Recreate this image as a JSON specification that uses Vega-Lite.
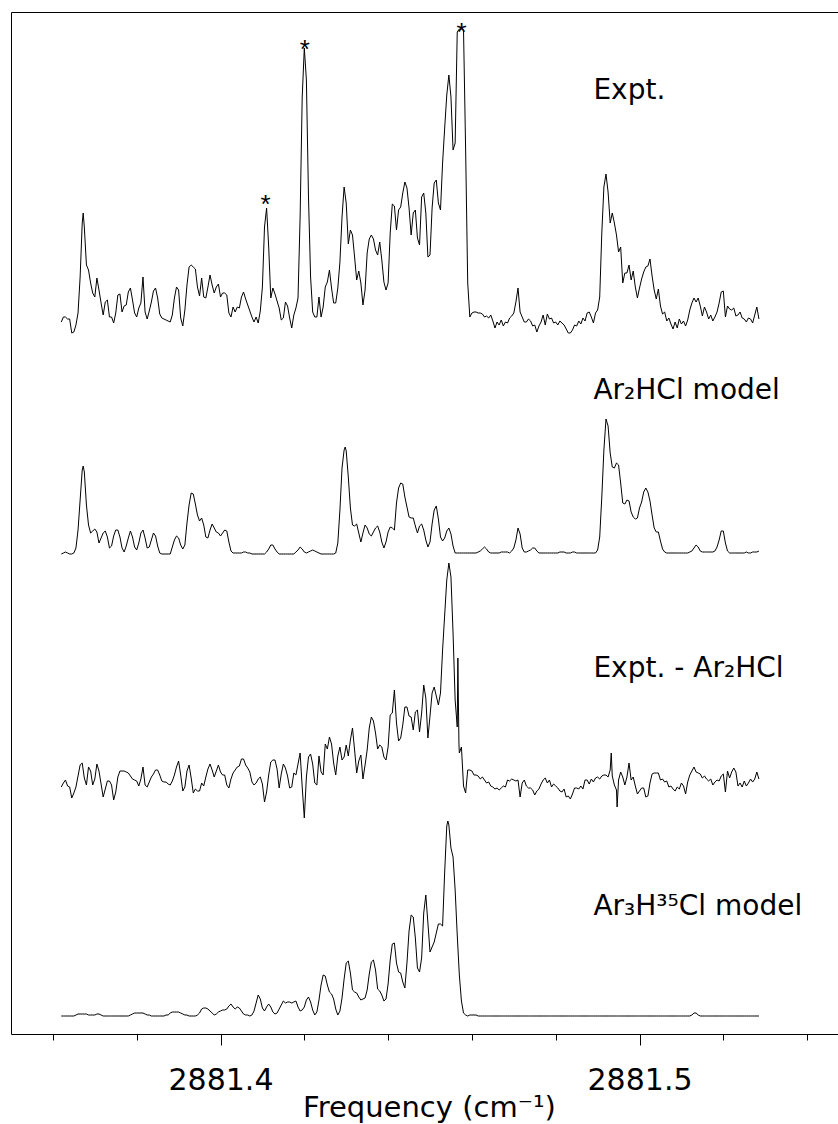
{
"$schema": "https://vega.github.io/schema/vega-lite/v6.json",
"width": 827, "height": 1022,
"autosize": {"type": "none"},
"padding": {"left": 11, "top": 12, "right": 0, "bottom": 90},
"background": "white",
"config": {"view": {"stroke": null}, "axis": {"grid": false}},
"resolve": {"axis": {"x": "independent"}},
"layer": [
{
"data": {"values": [
{"f":2881.362,"a":712,"b":480,"c":247,"d":18},
{"f":2881.3625,"a":717,"b":481,"c":251,"d":18},
{"f":2881.363,"a":717,"b":482,"c":254,"d":18},
{"f":2881.3635,"a":715,"b":481,"c":248,"d":18},
{"f":2881.364,"a":715,"b":480,"c":247,"d":18},
{"f":2881.3645,"a":701,"b":480,"c":236,"d":18},
{"f":2881.365,"a":702,"b":481,"c":241,"d":18},
{"f":2881.3655,"a":709,"b":486,"c":247,"d":19},
{"f":2881.366,"a":721,"b":504,"c":258,"d":20},
{"f":2881.3665,"a":757,"b":534,"c":269,"d":20},
{"f":2881.367,"a":811,"b":564,"c":271,"d":20},
{"f":2881.36723,"a":821,"b":568},
{"f":2881.3675,"a":807,"b":562,"c":256,"d":20},
{"f":2881.368,"a":769,"b":529,"c":249,"d":20},
{"f":2881.3685,"a":764,"b":509,"c":267,"d":19},
{"f":2881.369,"a":751,"b":501,"c":263,"d":19},
{"f":2881.3695,"a":741,"b":503,"c":249,"d":19},
{"f":2881.37,"a":737,"b":505,"c":255,"d":19},
{"f":2881.3705,"a":756,"b":502,"c":270,"d":20},
{"f":2881.371,"a":744,"b":491,"c":263,"d":20},
{"f":2881.3715,"a":731,"b":496,"c":250,"d":19},
{"f":2881.372,"a":719,"b":501,"c":237,"d":18},
{"f":2881.3725,"a":732,"b":503,"c":245,"d":18},
{"f":2881.373,"a":734,"b":497,"c":253,"d":18},
{"f":2881.3735,"a":717,"b":486,"c":253,"d":18},
{"f":2881.374,"a":717,"b":488,"c":249,"d":18},
{"f":2881.3745,"a":711,"b":498,"c":234,"d":18},
{"f":2881.375,"a":721,"b":504,"c":242,"d":18},
{"f":2881.3755,"a":739,"b":504,"c":257,"d":18},
{"f":2881.376,"a":740,"b":497,"c":263,"d":18},
{"f":2881.3765,"a":722,"b":486,"c":263,"d":18},
{"f":2881.377,"a":728,"b":482,"c":263,"d":18},
{"f":2881.3775,"a":729,"b":488,"c":262,"d":18},
{"f":2881.378,"a":742,"b":496,"c":261,"d":18},
{"f":2881.3785,"a":746,"b":503,"c":258,"d":19},
{"f":2881.379,"a":734,"b":497,"c":255,"d":20},
{"f":2881.3795,"a":721,"b":487,"c":254,"d":21},
{"f":2881.38,"a":717,"b":484,"c":253,"d":21},
{"f":2881.3805,"a":726,"b":491,"c":248,"d":21},
{"f":2881.381,"a":731,"b":501,"c":255,"d":21},
{"f":2881.3815,"a":757,"b":504,"c":267,"d":21},
{"f":2881.382,"a":722,"b":496,"c":249,"d":20},
{"f":2881.3825,"a":715,"b":486,"c":247,"d":19},
{"f":2881.383,"a":723,"b":487,"c":252,"d":19},
{"f":2881.3835,"a":732,"b":494,"c":257,"d":18},
{"f":2881.384,"a":743,"b":501,"c":260,"d":18},
{"f":2881.3845,"a":746,"b":498,"c":264,"d":18},
{"f":2881.385,"a":736,"b":488,"c":264,"d":18},
{"f":2881.3855,"a":720,"b":481,"c":259,"d":18},
{"f":2881.386,"a":716,"b":480,"c":253,"d":18},
{"f":2881.3865,"a":715,"b":480,"c":252,"d":18},
{"f":2881.387,"a":714,"b":480,"c":252,"d":19},
{"f":2881.3875,"a":713,"b":480,"c":250,"d":19},
{"f":2881.388,"a":712,"b":480,"c":249,"d":21},
{"f":2881.3885,"a":719,"b":487,"c":253,"d":22},
{"f":2881.389,"a":736,"b":494,"c":259,"d":22},
{"f":2881.3895,"a":747,"b":498,"c":267,"d":22},
{"f":2881.39,"a":744,"b":496,"c":273,"d":22},
{"f":2881.3905,"a":716,"b":489,"c":259,"d":21},
{"f":2881.391,"a":708,"b":485,"c":243,"d":20},
{"f":2881.3915,"a":724,"b":489,"c":247,"d":19},
{"f":2881.392,"a":749,"b":511,"c":263,"d":19},
{"f":2881.3925,"a":767,"b":529,"c":269,"d":18},
{"f":2881.393,"a":769,"b":541,"c":256,"d":18},
{"f":2881.3935,"a":767,"b":540,"c":241,"d":18},
{"f":2881.394,"a":765,"b":530,"c":245,"d":18},
{"f":2881.3945,"a":747,"b":519,"c":243,"d":19},
{"f":2881.395,"a":738,"b":513,"c":243,"d":21},
{"f":2881.3955,"a":756,"b":516,"c":251,"d":25},
{"f":2881.396,"a":737,"b":509,"c":248,"d":26},
{"f":2881.3965,"a":736,"b":497,"c":257,"d":26},
{"f":2881.397,"a":747,"b":496,"c":265,"d":25},
{"f":2881.3975,"a":759,"b":504,"c":270,"d":23},
{"f":2881.398,"a":749,"b":510,"c":264,"d":21},
{"f":2881.3985,"a":741,"b":506,"c":257,"d":19},
{"f":2881.399,"a":747,"b":502,"c":263,"d":20},
{"f":2881.3995,"a":750,"b":501,"c":269,"d":22},
{"f":2881.4,"a":737,"b":498,"c":262,"d":23},
{"f":2881.4005,"a":741,"b":501,"c":259,"d":24},
{"f":2881.401,"a":741,"b":504,"c":259,"d":24},
{"f":2881.4015,"a":739,"b":503,"c":249,"d":25},
{"f":2881.402,"a":721,"b":492,"c":246,"d":28},
{"f":2881.4025,"a":717,"b":483,"c":255,"d":30},
{"f":2881.403,"a":727,"b":481,"c":261,"d":27},
{"f":2881.4035,"a":722,"b":481,"c":264,"d":25},
{"f":2881.404,"a":727,"b":481,"c":267,"d":27},
{"f":2881.4045,"a":726,"b":481,"c":268,"d":26},
{"f":2881.405,"a":737,"b":481,"c":275,"d":23},
{"f":2881.4055,"a":742,"b":482,"c":275,"d":20},
{"f":2881.406,"a":735,"b":482,"c":269,"d":19},
{"f":2881.4065,"a":729,"b":481,"c":266,"d":19},
{"f":2881.407,"a":723,"b":481,"c":262,"d":18},
{"f":2881.4075,"a":717,"b":480,"c":252,"d":19},
{"f":2881.408,"a":712,"b":480,"c":249,"d":23},
{"f":2881.4085,"a":717,"b":480,"c":251,"d":31},
{"f":2881.409,"a":711,"b":480,"c":255,"d":39},
{"f":2881.4095,"a":723,"b":480,"c":257,"d":35},
{"f":2881.41,"a":747,"b":480,"c":250,"d":26},
{"f":2881.4105,"a":807,"b":480,"c":232,"d":23},
{"f":2881.411,"a":826,"b":482,"c":242,"d":27},
{"f":2881.4115,"a":787,"b":485,"c":259,"d":30},
{"f":2881.412,"a":736,"b":489,"c":272,"d":27},
{"f":2881.4125,"a":746,"b":489,"c":274,"d":22},
{"f":2881.413,"a":740,"b":485,"c":274,"d":20},
{"f":2881.4135,"a":733,"b":482,"c":265,"d":21},
{"f":2881.414,"a":726,"b":480,"c":246,"d":25},
{"f":2881.4145,"a":714,"b":480,"c":260,"d":29},
{"f":2881.415,"a":716,"b":480,"c":270,"d":33},
{"f":2881.4155,"a":732,"b":480,"c":266,"d":31},
{"f":2881.416,"a":728,"b":480,"c":258,"d":32},
{"f":2881.4165,"a":716,"b":480,"c":246,"d":32},
{"f":2881.417,"a":706,"b":480,"c":247,"d":31},
{"f":2881.4175,"a":719,"b":480,"c":261,"d":32},
{"f":2881.418,"a":726,"b":482,"c":259,"d":33},
{"f":2881.4185,"a":736,"b":484,"c":270,"d":27},
{"f":2881.419,"a":817,"b":487,"c":281,"d":23},
{"f":2881.4195,"a":937,"b":485,"c":247,"d":24},
{"f":2881.42,"a":986,"b":482,"c":216,"d":27},
{"f":2881.4205,"a":954,"b":481,"c":257,"d":34},
{"f":2881.421,"a":837,"b":482,"c":277,"d":37},
{"f":2881.4215,"a":757,"b":483,"c":280,"d":32},
{"f":2881.422,"a":722,"b":484,"c":270,"d":24},
{"f":2881.4225,"a":717,"b":483,"c":251,"d":19},
{"f":2881.423,"a":717,"b":482,"c":249,"d":22},
{"f":2881.4235,"a":737,"b":481,"c":278,"d":34},
{"f":2881.424,"a":717,"b":480,"c":262,"d":49},
{"f":2881.4245,"a":727,"b":480,"c":259,"d":59},
{"f":2881.425,"a":747,"b":480,"c":290,"d":58},
{"f":2881.4255,"a":752,"b":480,"c":285,"d":49},
{"f":2881.426,"a":764,"b":480,"c":297,"d":42},
{"f":2881.4265,"a":746,"b":480,"c":290,"d":40},
{"f":2881.427,"a":731,"b":480,"c":271,"d":35},
{"f":2881.4275,"a":731,"b":481,"c":259,"d":25},
{"f":2881.428,"a":746,"b":491,"c":278,"d":19},
{"f":2881.4285,"a":772,"b":524,"c":287,"d":23},
{"f":2881.429,"a":817,"b":566,"c":274,"d":36},
{"f":2881.4295,"a":847,"b":584,"c":277,"d":55},
{"f":2881.42976,"b":587},
{"f":2881.43,"a":831,"b":583,"c":289,"d":71},
{"f":2881.4305,"a":790,"b":557,"c":278,"d":73},
{"f":2881.431,"a":804,"b":526,"c":294,"d":61},
{"f":2881.4315,"a":799,"b":509,"c":306,"d":44},
{"f":2881.432,"a":777,"b":508,"c":284,"d":42},
{"f":2881.4325,"a":754,"b":510,"c":261,"d":41},
{"f":2881.433,"a":763,"b":501,"c":273,"d":37},
{"f":2881.4335,"a":751,"b":492,"c":279,"d":34},
{"f":2881.434,"a":729,"b":501,"c":255,"d":35},
{"f":2881.4345,"a":744,"b":509,"c":269,"d":36},
{"f":2881.435,"a":781,"b":506,"c":284,"d":44},
{"f":2881.4355,"a":795,"b":500,"c":306,"d":60},
{"f":2881.436,"a":799,"b":498,"c":317,"d":72},
{"f":2881.4365,"a":795,"b":502,"c":313,"d":74},
{"f":2881.437,"a":784,"b":506,"c":301,"d":64},
{"f":2881.4375,"a":779,"b":508,"c":285,"d":45},
{"f":2881.438,"a":792,"b":502,"c":289,"d":43},
{"f":2881.4385,"a":774,"b":492,"c":287,"d":39},
{"f":2881.439,"a":752,"b":486,"c":277,"d":33},
{"f":2881.4395,"a":744,"b":492,"c":274,"d":35},
{"f":2881.44,"a":751,"b":502,"c":287,"d":50},
{"f":2881.4405,"a":801,"b":507,"c":319,"d":74},
{"f":2881.441,"a":830,"b":506,"c":321,"d":90},
{"f":2881.4415,"a":828,"b":504,"c":344,"d":91},
{"f":2881.442,"a":804,"b":531,"c":311,"d":71},
{"f":2881.4425,"a":824,"b":546,"c":293,"d":62},
{"f":2881.443,"a":827,"b":551,"c":296,"d":61},
{"f":2881.4435,"a":841,"b":550,"c":309,"d":52},
{"f":2881.444,"a":852,"b":537,"c":327,"d":46},
{"f":2881.4445,"a":846,"b":527,"c":327,"d":71},
{"f":2881.445,"a":826,"b":517,"c":318,"d":103},
{"f":2881.4455,"a":799,"b":516,"c":317,"d":119},
{"f":2881.446,"a":821,"b":516,"c":304,"d":117},
{"f":2881.4465,"a":824,"b":508,"c":322,"d":96},
{"f":2881.447,"a":796,"b":501,"c":324,"d":66},
{"f":2881.4475,"a":789,"b":508,"c":302,"d":62},
{"f":2881.448,"a":837,"b":510,"c":321,"d":76},
{"f":2881.4485,"a":841,"b":504,"c":349,"d":121},
{"f":2881.449,"a":821,"b":494,"c":336,"d":139},
{"f":2881.4495,"a":777,"b":487,"c":296,"d":111},
{"f":2881.45,"a":779,"b":492,"c":318,"d":82},
{"f":2881.4505,"a":826,"b":510,"c":341,"d":87},
{"f":2881.451,"a":851,"b":524,"c":347,"d":92},
{"f":2881.4515,"a":854,"b":528,"c":338,"d":101},
{"f":2881.452,"a":831,"b":515,"c":329,"d":110},
{"f":2881.4525,"a":824,"b":497,"c":341,"d":110},
{"f":2881.453,"a":871,"b":493,"c":384,"d":108},
{"f":2881.4535,"a":906,"b":496,"c":419,"d":162},
{"f":2881.454,"a":939,"b":503,"c":454,"d":208},
{"f":2881.45426,"d":213},
{"f":2881.4545,"a":959,"b":506,"c":471,"d":209},
{"f":2881.455,"a":937,"b":500,"c":457,"d":186},
{"f":2881.4555,"a":884,"b":488,"c":401,"d":177},
{"f":2881.456,"a":891,"b":481,"c":334,"d":144},
{"f":2881.4565,"a":1002,"b":481,"c":307,"d":99},
{"f":2881.45665,"c":376},
{"f":2881.4569,"c":291},
{"f":2881.457,"a":1005,"b":481,"c":281,"d":59},
{"f":2881.4575,"a":1005,"b":481,"c":287,"d":33},
{"f":2881.458,"a":1004,"b":481,"c":248,"d":21},
{"f":2881.4585,"a":884,"b":481,"c":241,"d":19},
{"f":2881.459,"a":751,"b":481,"c":264,"d":18},
{"f":2881.4595,"a":717,"b":481,"c":264,"d":19},
{"f":2881.46,"a":721,"b":481,"c":263,"d":19},
{"f":2881.4605,"a":722,"b":481,"c":259,"d":19},
{"f":2881.461,"a":722,"b":481,"c":259,"d":19},
{"f":2881.4615,"a":721,"b":482,"c":258,"d":18},
{"f":2881.462,"a":721,"b":483,"c":255,"d":18},
{"f":2881.4625,"a":720,"b":485,"c":257,"d":18},
{"f":2881.463,"a":717,"b":487,"c":254,"d":18},
{"f":2881.4635,"a":718,"b":485,"c":251,"d":18},
{"f":2881.464,"a":716,"b":482,"c":252,"d":18},
{"f":2881.4645,"a":719,"b":481,"c":248,"d":18},
{"f":2881.465,"a":713,"b":481,"c":247,"d":18},
{"f":2881.4655,"a":706,"b":481,"c":245,"d":18},
{"f":2881.466,"a":712,"b":481,"c":246,"d":18},
{"f":2881.4665,"a":709,"b":481,"c":244,"d":18},
{"f":2881.467,"a":714,"b":482,"c":246,"d":18},
{"f":2881.4675,"a":708,"b":482,"c":248,"d":18},
{"f":2881.468,"a":712,"b":482,"c":247,"d":18},
{"f":2881.4685,"a":711,"b":482,"c":254,"d":18},
{"f":2881.469,"a":716,"b":481,"c":253,"d":18},
{"f":2881.4695,"a":718,"b":483,"c":255,"d":18},
{"f":2881.47,"a":721,"b":486,"c":254,"d":18},
{"f":2881.4705,"a":732,"b":494,"c":253,"d":18},
{"f":2881.471,"a":746,"b":506,"c":254,"d":18},
{"f":2881.4715,"a":722,"b":500,"c":237,"d":18},
{"f":2881.472,"a":717,"b":486,"c":251,"d":18},
{"f":2881.4725,"a":712,"b":482,"c":254,"d":18},
{"f":2881.473,"a":712,"b":482,"c":248,"d":18},
{"f":2881.4735,"a":715,"b":483,"c":246,"d":18},
{"f":2881.474,"a":713,"b":484,"c":246,"d":18},
{"f":2881.4745,"a":708,"b":486,"c":244,"d":18},
{"f":2881.475,"a":709,"b":486,"c":239,"d":18},
{"f":2881.4755,"a":702,"b":483,"c":243,"d":18},
{"f":2881.476,"a":708,"b":481,"c":245,"d":18},
{"f":2881.4765,"a":712,"b":481,"c":250,"d":18},
{"f":2881.477,"a":719,"b":481,"c":254,"d":18},
{"f":2881.4775,"a":709,"b":481,"c":256,"d":18},
{"f":2881.478,"a":720,"b":481,"c":251,"d":18},
{"f":2881.4785,"a":715,"b":481,"c":254,"d":18},
{"f":2881.479,"a":716,"b":481,"c":247,"d":18},
{"f":2881.4795,"a":711,"b":481,"c":250,"d":18},
{"f":2881.48,"a":712,"b":481,"c":248,"d":18},
{"f":2881.4805,"a":709,"b":481,"c":246,"d":18},
{"f":2881.481,"a":713,"b":482,"c":243,"d":18},
{"f":2881.4815,"a":711,"b":482,"c":242,"d":18},
{"f":2881.482,"a":709,"b":482,"c":245,"d":18},
{"f":2881.4825,"a":705,"b":481,"c":237,"d":18},
{"f":2881.483,"a":701,"b":481,"c":238,"d":18},
{"f":2881.4835,"a":701,"b":481,"c":235,"d":18},
{"f":2881.484,"a":704,"b":482,"c":240,"d":18},
{"f":2881.4845,"a":709,"b":482,"c":246,"d":18},
{"f":2881.485,"a":708,"b":481,"c":246,"d":18},
{"f":2881.4855,"a":713,"b":481,"c":245,"d":18},
{"f":2881.486,"a":710,"b":481,"c":248,"d":18},
{"f":2881.4865,"a":716,"b":481,"c":245,"d":18},
{"f":2881.487,"a":713,"b":481,"c":254,"d":18},
{"f":2881.4875,"a":721,"b":481,"c":254,"d":18},
{"f":2881.488,"a":722,"b":481,"c":250,"d":18},
{"f":2881.4885,"a":717,"b":481,"c":255,"d":18},
{"f":2881.489,"a":711,"b":481,"c":252,"d":18},
{"f":2881.4895,"a":721,"b":481,"c":256,"d":18},
{"f":2881.49,"a":724,"b":484,"c":257,"d":18},
{"f":2881.4905,"a":737,"b":497,"c":255,"d":18},
{"f":2881.491,"a":801,"b":537,"c":258,"d":18},
{"f":2881.4915,"a":847,"b":584,"c":259,"d":18},
{"f":2881.492,"a":860,"b":615,"c":259,"d":18},
{"f":2881.4925,"a":842,"b":608,"c":257,"d":18},
{"f":2881.493,"a":811,"b":581,"c":264,"d":18},
{"f":2881.49325,"c":281},
{"f":2881.4935,"a":821,"b":567,"c":258,"d":18},
{"f":2881.494,"a":811,"b":566,"c":249,"d":18},
{"f":2881.4945,"a":799,"b":571,"c":244,"d":18},
{"f":2881.49465,"c":227},
{"f":2881.495,"a":782,"b":569,"c":254,"d":18},
{"f":2881.4955,"a":787,"b":551,"c":262,"d":18},
{"f":2881.496,"a":751,"b":531,"c":257,"d":18},
{"f":2881.4965,"a":761,"b":530,"c":249,"d":18},
{"f":2881.497,"a":761,"b":534,"c":257,"d":18},
{"f":2881.4975,"a":769,"b":533,"c":271,"d":18},
{"f":2881.498,"a":754,"b":522,"c":254,"d":18},
{"f":2881.4985,"a":763,"b":517,"c":257,"d":18},
{"f":2881.499,"a":747,"b":515,"c":248,"d":18},
{"f":2881.4995,"a":736,"b":516,"c":240,"d":18},
{"f":2881.5,"a":746,"b":526,"c":243,"d":18},
{"f":2881.5005,"a":755,"b":532,"c":246,"d":18},
{"f":2881.501,"a":762,"b":542,"c":246,"d":18},
{"f":2881.5015,"a":767,"b":546,"c":237,"d":18},
{"f":2881.502,"a":768,"b":542,"c":238,"d":18},
{"f":2881.5025,"a":775,"b":533,"c":251,"d":18},
{"f":2881.503,"a":758,"b":519,"c":260,"d":18},
{"f":2881.5035,"a":744,"b":506,"c":261,"d":18},
{"f":2881.504,"a":735,"b":502,"c":261,"d":18},
{"f":2881.5045,"a":745,"b":502,"c":261,"d":18},
{"f":2881.505,"a":728,"b":493,"c":254,"d":18},
{"f":2881.5055,"a":720,"b":485,"c":255,"d":18},
{"f":2881.506,"a":722,"b":482,"c":252,"d":18},
{"f":2881.5065,"a":713,"b":481,"c":253,"d":18},
{"f":2881.507,"a":716,"b":481,"c":247,"d":18},
{"f":2881.5075,"a":710,"b":481,"c":248,"d":18},
{"f":2881.508,"a":705,"b":481,"c":245,"d":18},
{"f":2881.5085,"a":712,"b":481,"c":243,"d":18},
{"f":2881.509,"a":706,"b":481,"c":247,"d":18},
{"f":2881.5095,"a":715,"b":481,"c":245,"d":18},
{"f":2881.51,"a":710,"b":481,"c":251,"d":18},
{"f":2881.5105,"a":713,"b":481,"c":248,"d":18},
{"f":2881.511,"a":708,"b":481,"c":240,"d":18},
{"f":2881.5115,"a":714,"b":481,"c":252,"d":18},
{"f":2881.512,"a":724,"b":482,"c":259,"d":18},
{"f":2881.5125,"a":731,"b":483,"c":263,"d":19},
{"f":2881.513,"a":736,"b":486,"c":267,"d":21},
{"f":2881.5135,"a":732,"b":489,"c":262,"d":21},
{"f":2881.514,"a":736,"b":487,"c":261,"d":19},
{"f":2881.5145,"a":728,"b":483,"c":260,"d":18},
{"f":2881.515,"a":718,"b":482,"c":256,"d":18},
{"f":2881.5155,"a":727,"b":482,"c":258,"d":18},
{"f":2881.516,"a":722,"b":482,"c":255,"d":18},
{"f":2881.5165,"a":715,"b":482,"c":253,"d":18},
{"f":2881.517,"a":719,"b":482,"c":255,"d":18},
{"f":2881.5175,"a":713,"b":482,"c":249,"d":18},
{"f":2881.518,"a":717,"b":483,"c":252,"d":18},
{"f":2881.5185,"a":722,"b":487,"c":254,"d":18},
{"f":2881.519,"a":731,"b":494,"c":253,"d":18},
{"f":2881.5195,"a":742,"b":503,"c":258,"d":18},
{"f":2881.52,"a":743,"b":503,"c":260,"d":18},
{"f":2881.5205,"a":717,"b":491,"c":242,"d":18},
{"f":2881.521,"a":728,"b":483,"c":263,"d":18},
{"f":2881.5215,"a":725,"b":481,"c":256,"d":18},
{"f":2881.522,"a":724,"b":481,"c":262,"d":18},
{"f":2881.5225,"a":726,"b":481,"c":266,"d":18},
{"f":2881.523,"a":718,"b":481,"c":262,"d":18},
{"f":2881.5235,"a":719,"b":481,"c":248,"d":18},
{"f":2881.524,"a":722,"b":481,"c":251,"d":18},
{"f":2881.5245,"a":716,"b":481,"c":247,"d":18},
{"f":2881.525,"a":715,"b":481,"c":253,"d":18},
{"f":2881.5255,"a":712,"b":482,"c":248,"d":18},
{"f":2881.526,"a":716,"b":481,"c":251,"d":18},
{"f":2881.5265,"a":715,"b":481,"c":255,"d":18},
{"f":2881.527,"a":711,"b":482,"c":252,"d":18},
{"f":2881.5275,"a":719,"b":482,"c":255,"d":18},
{"f":2881.528,"a":727,"b":482,"c":262,"d":18},
{"f":2881.5285,"a":715,"b":483,"c":255,"d":18}
]},
"transform": [
{"fold": ["a", "b", "c", "d"], "as": ["series", "v"]},
{"filter": "isValid(datum.v)"}
],
"mark": {"type": "line", "color": "black", "strokeWidth": 1},
"encoding": {
"x": {"field": "f", "type": "quantitative",
 "scale": {"domain": [2881.35, 2881.54737], "nice": false, "zero": false},
 "axis": {
  "orient": "bottom",
  "values": [2881.36, 2881.38, 2881.4, 2881.42, 2881.44, 2881.46, 2881.48, 2881.5, 2881.52, 2881.54],
  "tickSize": {"condition": {"test": "abs(datum.value - 2881.4) < 0.001 || abs(datum.value - 2881.5) < 0.001", "value": 11}, "value": 6},
  "tickColor": "black", "tickWidth": 1,
  "domainColor": "black", "domainWidth": 1,
  "labelExpr": "abs(datum.value - 2881.4) < 0.001 || abs(datum.value - 2881.5) < 0.001 ? format(datum.value, '.1f') : ''",
  "labelFont": "DejaVu Sans", "labelFontSize": 30, "labelColor": "black",
  "labelBaseline": "alphabetic", "labelPadding": 44,
  "labelOverlap": false, "labelFlush": false, "labelBound": false,
  "title": "Frequency (cm⁻¹)", "titleFont": "DejaVu Sans", "titleFontSize": 29,
  "titleFontWeight": "normal", "titleColor": "black", "titleBaseline": "alphabetic",
  "titleX": 418, "titleY": 82, "titleAlign": "center", "grid": false
 }},
"y": {"field": "v", "type": "quantitative",
 "scale": {"domain": [0, 1022], "nice": false, "zero": false},
 "axis": {"orient": "left", "ticks": false, "labels": false, "title": null, "domain": true, "domainColor": "black", "domainWidth": 1, "grid": false}},
"detail": {"field": "series"}
}
},
{
"data": {"values": [
{"label": "Expt.", "f": 2881.489, "v": 934.7},
{"label": "Ar₂HCl model", "f": 2881.489, "v": 634.7},
{"label": "Expt. - Ar₂HCl", "f": 2881.489, "v": 356.7},
{"label": "Ar₃H³⁵Cl model", "f": 2881.489, "v": 119}
]},
"mark": {"type": "text", "align": "left", "baseline": "alphabetic", "font": "DejaVu Sans", "fontSize": 28, "color": "black"},
"encoding": {
"x": {"field": "f", "type": "quantitative",
 "scale": {"domain": [2881.35, 2881.54737], "nice": false, "zero": false},
 "axis": {"orient": "top", "ticks": false, "labels": false, "title": null, "domain": true, "domainColor": "black", "domainWidth": 1, "grid": false}},
"y": {"field": "v", "type": "quantitative",
 "scale": {"domain": [0, 1022], "nice": false, "zero": false},
 "axis": {"orient": "left", "ticks": false, "labels": false, "title": null, "domain": true, "domainColor": "black", "domainWidth": 1, "grid": false}},
"text": {"field": "label"}
}
},
{
"data": {"values": [
{"f": 2881.41074, "v": 821},
{"f": 2881.42012, "v": 976},
{"f": 2881.45752, "v": 993}
]},
"mark": {"type": "text", "text": "*", "align": "center", "baseline": "alphabetic", "font": "Liberation Sans", "fontSize": 26, "color": "black"},
"encoding": {
"x": {"field": "f", "type": "quantitative",
 "scale": {"domain": [2881.35, 2881.54737], "nice": false, "zero": false},
 "axis": null},
"y": {"field": "v", "type": "quantitative",
 "scale": {"domain": [0, 1022], "nice": false, "zero": false},
 "axis": {"orient": "left", "ticks": false, "labels": false, "title": null, "domain": true, "domainColor": "black", "domainWidth": 1, "grid": false}}
}
}
]
}
